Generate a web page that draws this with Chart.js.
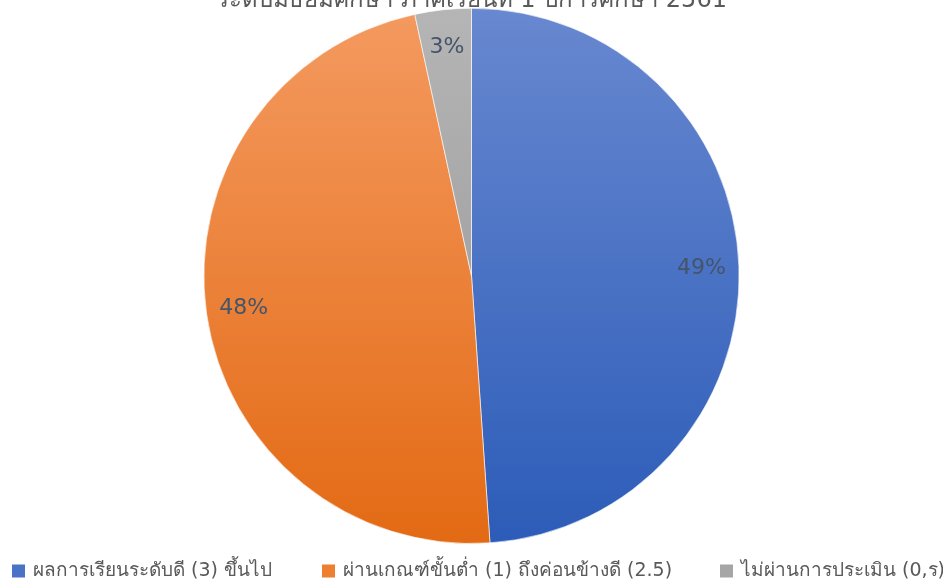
<!DOCTYPE html>
<html>
<head>
<meta charset="utf-8">
<script src="https://cdn.jsdelivr.net/npm/chart.js@4.4.1/dist/chart.umd.min.js"></script>
<style>
  html, body { margin: 0; padding: 0; background: #fff; overflow: hidden; }
  #wrap { position: absolute; left: 0; top: -14px; width: 943px; height: 598px; }
</style>
</head>
<body>
<div id="wrap"><canvas id="pieChart"></canvas></div>
<script>
// ข้อมูลของกราฟ
const titleText = "ระดับมัธยมศึกษา ภาคเรียนที่ 1 ปีการศึกษา 2561";
const categories = [
  "ผลการเรียนระดับดี (3) ขึ้นไป",
  "ผ่านเกณฑ์ขั้นต่ำ (1) ถึงค่อนข้างดี (2.5)",
  "ไม่ผ่านการประเมิน (0,ร)"
];
const shares = [48.9, 47.7, 3.4];
const colorTop = ["#6888d0", "#f49a60", "#b5b5b5"];
const colorBottom = ["#2c5cb8", "#e36a14", "#939393"];
const legendColors = ["#4a73c6", "#ee7f30", "#a6a6a6"];

const textColor = "#595959";

// dégradé vertical comme dans Excel
function sliceFill(context) {
  const chart = context.chart;
  const area = chart.chartArea;
  const i = context.dataIndex;
  if (!area) return colorTop[i];
  const g = chart.ctx.createLinearGradient(0, area.top, 0, area.bottom);
  g.addColorStop(0, colorTop[i]);
  g.addColorStop(1, colorBottom[i]);
  return g;
}

// étiquettes de pourcentage dans les parts
const percentLabels = {
  id: 'percentLabels',
  afterDatasetsDraw(chart) {
    const ctx = chart.ctx;
    const meta = chart.getDatasetMeta(0);
    const total = shares.reduce((a, b) => a + b, 0);
    ctx.save();
    ctx.font = "22px 'DejaVu Sans', sans-serif";
    ctx.fillStyle = "#44546a";
    ctx.textAlign = "center";
    ctx.textBaseline = "middle";
    meta.data.forEach((arc, i) => {
      const p = arc.getProps(['x', 'y', 'startAngle', 'endAngle', 'outerRadius'], true);
      const mid = (p.startAngle + p.endAngle) / 2;
      const r = p.outerRadius * 0.86;
      const txt = Math.round(shares[i] / total * 100) + "%";
      ctx.fillText(txt, p.x + Math.cos(mid) * r, p.y + Math.sin(mid) * r);
    });
    ctx.restore();
  }
};

// légende sur une seule ligne (elle déborde à droite comme l'original)
const legendX = [12, 322, 720];
const oneRowLegend = {
  id: 'oneRowLegend',
  afterDraw(chart) {
    const ctx = chart.ctx;
    const y = chart.height - 13;
    ctx.save();
    ctx.font = "19px 'DejaVu Sans', sans-serif";
    ctx.textBaseline = "middle";
    ctx.textAlign = "left";
    categories.forEach((c, i) => {
      ctx.fillStyle = legendColors[i];
      ctx.fillRect(legendX[i], y - 6.5, 13, 13);
      ctx.fillStyle = textColor;
      ctx.fillText(c, legendX[i] + 21, y);
    });
    ctx.restore();
  }
};

const ctx = document.getElementById('pieChart').getContext('2d');

new Chart(ctx, {
  type: 'pie',
  data: {
    labels: categories,
    datasets: [{
      data: shares,
      backgroundColor: sliceFill,
      borderColor: "rgba(255,255,255,0.6)",
      borderWidth: 1
    }]
  },
  options: {
    responsive: true,
    maintainAspectRatio: false,
    animation: false,
    layout: { padding: { top: 0, bottom: 40 } },
    plugins: {
      title: {
        display: true,
        text: titleText,
        color: textColor,
        font: { family: "'DejaVu Sans', sans-serif", size: 24, weight: 'normal' },
        padding: { top: 0, bottom: -7 }
      },
      legend: { display: false },
      tooltip: { enabled: false }
    }
  },
  plugins: [percentLabels, oneRowLegend]
});
</script>
</body>
</html>
